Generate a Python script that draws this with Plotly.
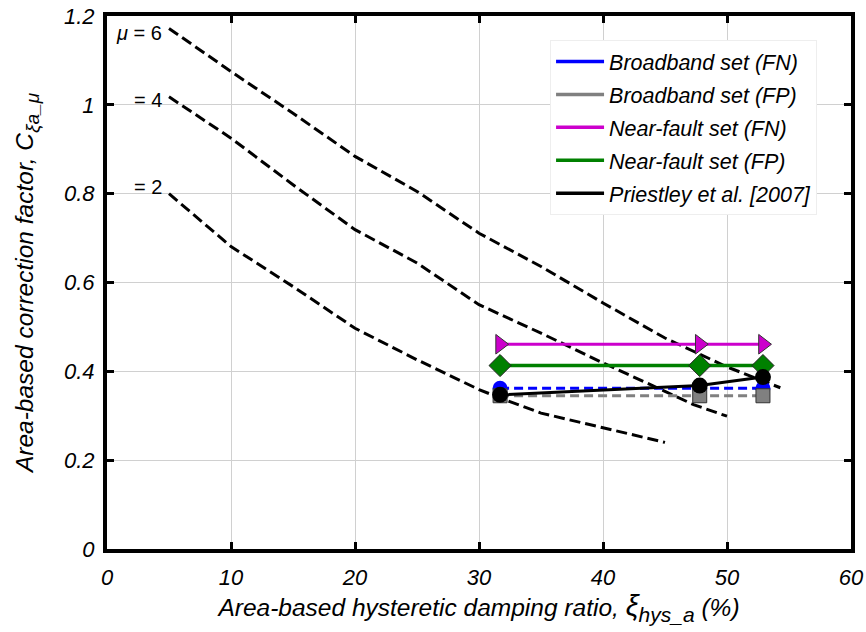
import plotly.graph_objects as go

# Priestley et al. correction-factor curves for three ductility levels
curve_x = [5, 10, 15, 20, 25, 30, 35, 40, 45, 50, 54.3]
mu6_y = [1.172, 1.075, 0.981, 0.884, 0.805, 0.711, 0.636, 0.554, 0.475, 0.41, 0.363]
mu4_x = [5, 10, 15, 20, 25, 27.4, 30, 35, 40, 45, 47.3, 50]
mu4_y = [1.018, 0.925, 0.820, 0.719, 0.644, 0.599, 0.55, 0.486, 0.419, 0.355, 0.325, 0.299]
mu2_x = [5, 10, 15, 20, 25, 30, 31.7, 35, 40, 45]
mu2_y = [0.80, 0.681, 0.591, 0.497, 0.426, 0.359, 0.34, 0.306, 0.273, 0.24]
mu_labels = ["<i>μ</i> = 6", "= 4", "= 2"]
mu_label_y = [1.162, 1.011, 0.815]

# Ground-motion set results
damp_x = [31.7, 47.8, 52.9]
bb_fn = [0.362, 0.362, 0.362]
bb_fp = [0.345, 0.345, 0.345]
nf_fn = [0.461, 0.461, 0.461]
nf_fp = [0.413, 0.413, 0.413]
priestley = [0.347, 0.368, 0.387]

x_ticks = [0, 10, 20, 30, 40, 50, 60]
y_ticks = [0, 0.2, 0.4, 0.6, 0.8, 1.0, 1.2]
y_tick_text = ["0", "0.2", "0.4", "0.6", "0.8", "1", "1.2"]

FONT = "Arial, Liberation Sans, sans-serif"

fig = go.Figure()

dash = "11px,5px"
for cx, cy in [(curve_x, mu6_y), (mu4_x, mu4_y), (mu2_x, mu2_y)]:
    fig.add_trace(go.Scatter(x=cx, y=cy, mode="lines", showlegend=False,
                             line=dict(color="black", width=3, dash=dash)))

fig.add_trace(go.Scatter(x=damp_x, y=nf_fn, mode="lines+markers", showlegend=False,
                         line=dict(color="#cc00cc", width=3),
                         marker=dict(symbol="triangle-right", size=17, color="#cc00cc",
                                     line=dict(color="#333", width=1))))
fig.add_trace(go.Scatter(x=damp_x, y=nf_fp, mode="lines+markers", showlegend=False,
                         line=dict(color="#008000", width=3.5),
                         marker=dict(symbol="diamond", size=17, color="#008000",
                                     line=dict(color="#222", width=1))))
fig.add_trace(go.Scatter(x=damp_x, y=bb_fn, mode="lines+markers", showlegend=False,
                         line=dict(color="#0000ff", width=3, dash="9px,5px"),
                         marker=dict(symbol="circle", size=15, color="#0000ff")))
fig.add_trace(go.Scatter(x=damp_x, y=bb_fp, mode="lines+markers", showlegend=False,
                         line=dict(color="#808080", width=3, dash="9px,5px"),
                         marker=dict(symbol="square", size=14, color="#808080",
                                     line=dict(color="#333", width=1))))
fig.add_trace(go.Scatter(x=damp_x, y=priestley, mode="lines+markers", showlegend=False,
                         line=dict(color="black", width=3),
                         marker=dict(symbol="circle", size=16, color="black")))

# Legend entries (line samples only), one group each so the gap can be tuned
legend_items = [
    ("Broadband set (FN)", "#0000ff"),
    ("Broadband set (FP)", "#808080"),
    ("Near-fault set (FN)", "#cc00cc"),
    ("Near-fault set (FP)", "#008000"),
    ("Priestley et al. [2007]", "black"),
]
for i, (name, col) in enumerate(legend_items):
    fig.add_trace(go.Scatter(x=[None], y=[None], mode="lines", name=name,
                             legendgroup=f"g{i}", line=dict(color=col, width=3.5)))

for txt, yy in zip(mu_labels, mu_label_y):
    fig.add_annotation(x=4.6, y=yy, text=txt, showarrow=False, xanchor="right",
                       yanchor="middle", font=dict(family=FONT, size=20, color="black"))

axis_common = dict(showline=True, linecolor="black", linewidth=4, mirror="ticks",
                   ticks="inside", ticklen=7, tickwidth=3, tickcolor="black",
                   showgrid=True, gridcolor="#d0d0d0", gridwidth=1, zeroline=False,
                   automargin=False,
                   tickfont=dict(family=FONT, size=22, color="black", style="italic"))

fig.update_xaxes(range=[0, 60], tickvals=x_ticks, ticktext=[str(v) for v in x_ticks],
                 ticklabelstandoff=6,
                 title=dict(text="Area-based hysteretic damping ratio, "
                                 "<span style='font-size:29px'>ξ</span>"
                                 "<sub><span style='font-size:21px'>hys_a</span></sub> (%)",
                            font=dict(family=FONT, size=24.5, color="black", style="italic"),
                            standoff=0),
                 **axis_common)
fig.update_yaxes(range=[0, 1.2], tickvals=y_ticks, ticktext=y_tick_text,
                 ticklabelstandoff=4,
                 title=dict(text="Area-based correction factor, C"
                                 "<sub><span style='font-size:19px'>ξa_μ</span></sub>",
                            font=dict(family=FONT, size=24.5, color="black", style="italic"),
                            standoff=24),
                 **axis_common)

fig.update_layout(
    width=866, height=632,
    margin=dict(l=107, r=15, t=16, b=83),
    plot_bgcolor="white", paper_bgcolor="white",
    legend=dict(x=0.5955, y=0.955, xanchor="left", yanchor="top",
                bgcolor="white", bordercolor="#eeeeee", borderwidth=1,
                tracegroupgap=2, itemwidth=48,
                font=dict(family=FONT, size=21.5, color="black", style="italic")),
)

fig.write_html("out.html")
